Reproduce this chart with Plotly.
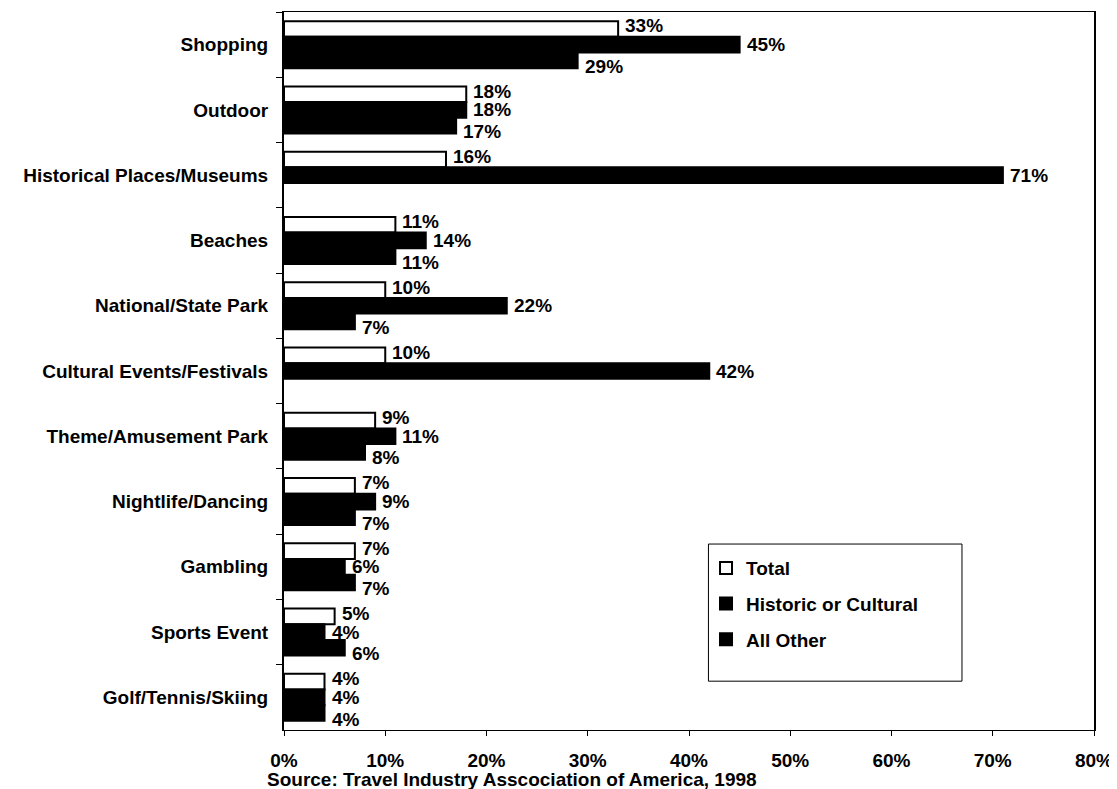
import plotly.graph_objects as go

categories = ["Shopping", "Outdoor", "Historical Places/Museums", "Beaches",
              "National/State Park", "Cultural Events/Festivals",
              "Theme/Amusement Park", "Nightlife/Dancing", "Gambling",
              "Sports Event", "Golf/Tennis/Skiing"]
total = [0.33, 0.18, 0.16, 0.11, 0.10, 0.10, 0.09, 0.07, 0.07, 0.05, 0.04]
historic = [0.45, 0.18, 0.71, 0.14, 0.22, 0.42, 0.11, 0.09, 0.06, 0.04, 0.04]
all_other = [0.29, 0.17, None, 0.11, 0.07, None, 0.08, 0.07, 0.07, 0.06, 0.04]
x_ticks = [0, 0.1, 0.2, 0.3, 0.4, 0.5, 0.6, 0.7, 0.8]
source = "Source: Travel Industry Asscociation of America, 1998"

FONT = "Liberation Sans, Arial, sans-serif"
F = dict(family=FONT, size=19, color="black", weight="bold")
BARGAP = 0.28
BW = (1 - BARGAP) / 3

fig = go.Figure()
series = [("Total", total, "white", -BW, 3),
          ("Historic or Cultural", historic, "black", 0.0, 0),
          ("All Other", all_other, "black", BW, -6)]
for i, (name, vals, col, off, ysh) in enumerate(series):
    fig.add_trace(go.Bar(
        y=categories, x=vals, orientation="h", name=name,
        marker=dict(color=col, line=dict(color="black", width=2)),
        legendgroup=f"g{i}",
    ))
    # value labels next to each bar end, staggered like the original
    for k, v in enumerate(vals):
        if v is None:
            continue
        fig.add_annotation(x=v, y=k + off, xref="x", yref="y",
                           text=f"{round(v*100)}%", showarrow=False,
                           xanchor="left", yanchor="middle", xshift=5,
                           yshift=ysh, font=F)

# page body has an 8px default margin; compensate so the plot lands where the reference has it
fig.update_layout(
    width=1109, height=781,
    margin=dict(l=276, r=23, t=4, b=59),
    paper_bgcolor="white", plot_bgcolor="white",
    barmode="group", bargap=BARGAP, bargroupgap=0,
    font=F,
    showlegend=True,
    legend=dict(x=0.521, y=0.252, xanchor="left", yanchor="top",
                borderwidth=0, bgcolor="rgba(0,0,0,0)",
                traceorder="grouped", tracegroupgap=8,
                font=F, itemwidth=30),
    xaxis=dict(range=[0, 0.8], tickvals=x_ticks, tickformat=".0%",
               showline=True, linecolor="black", linewidth=1, mirror=True,
               showgrid=False, zeroline=False, ticks="outside", ticklen=5,
               tickcolor="black", ticklabelstandoff=8, automargin=False,
               ticklabeloverflow="allow"),
    yaxis=dict(autorange="reversed", showline=True, linecolor="black",
               linewidth=2, mirror=True, showgrid=False, ticks="outside",
               ticklen=6, tickcolor="black", tickson="boundaries",
               ticklabelstandoff=10, automargin=False),
)
# legend frame
fig.add_shape(type="rect", xref="paper", yref="paper",
              x0=0.524, x1=0.837, y0=0.068, y1=0.259,
              line=dict(color="black", width=1), fillcolor="rgba(0,0,0,0)",
              layer="below")
fig.add_annotation(text=source, xref="paper", yref="paper", x=-0.0235, y=-0.069,
                   xanchor="left", yanchor="middle", showarrow=False,
                   font=F)
fig.write_html("out.html")
